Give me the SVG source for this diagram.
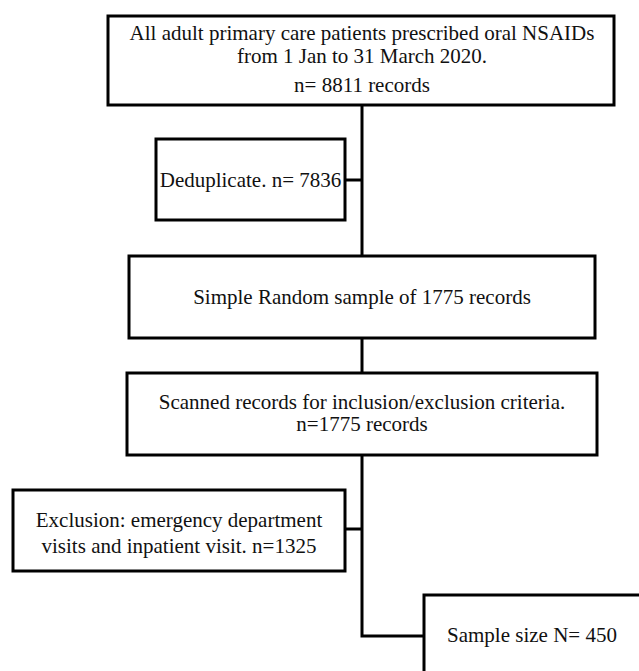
<svg xmlns="http://www.w3.org/2000/svg" width="639" height="671" viewBox="0 0 639 671">
<style>
.box{fill:#fff;stroke:#000;stroke-width:3}
.ln{fill:none;stroke:#000;stroke-width:3}
text{font-family:"Liberation Serif","Times New Roman",serif;font-size:21px;fill:#111}
.c{text-anchor:middle}
</style>
<rect width="639" height="671" fill="#fff"/>
<g id="connectors">
<path class="ln" d="M362,105 V256"/>
<path class="ln" d="M345,180 H362"/>
<path class="ln" d="M362,338 V373"/>
<path class="ln" d="M362,455 V636 H424"/>
<path class="ln" d="M345,529 H362"/>
</g>
<g id="n1">
<rect class="box" x="108" y="16" width="506" height="89"/>
<text class="c" x="362" y="40">All adult primary care patients prescribed oral NSAIDs</text>
<text class="c" x="362" y="63">from 1 Jan to 31 March 2020.</text>
<text class="c" x="362" y="92">n= 8811 records</text>
</g>
<g id="n2">
<rect class="box" x="156" y="139" width="189" height="81"/>
<text class="c" x="250.5" y="187">Deduplicate. n= 7836</text>
</g>
<g id="n3">
<rect class="box" x="129" y="256" width="466" height="82"/>
<text class="c" x="362" y="304">Simple Random sample of 1775 records</text>
</g>
<g id="n4">
<rect class="box" x="127" y="373" width="470" height="82"/>
<text class="c" x="362" y="409">Scanned records for inclusion/exclusion criteria.</text>
<text class="c" x="362" y="431">n=1775 records</text>
</g>
<g id="n5">
<rect class="box" x="13" y="490" width="332" height="81"/>
<text class="c" x="179" y="527">Exclusion: emergency department</text>
<text class="c" x="179" y="553">visits and inpatient visit. n=1325</text>
</g>
<g id="n6">
<rect class="box" x="424" y="595" width="260" height="120"/>
<text x="447" y="642">Sample size N= 450</text>
</g>
</svg>
